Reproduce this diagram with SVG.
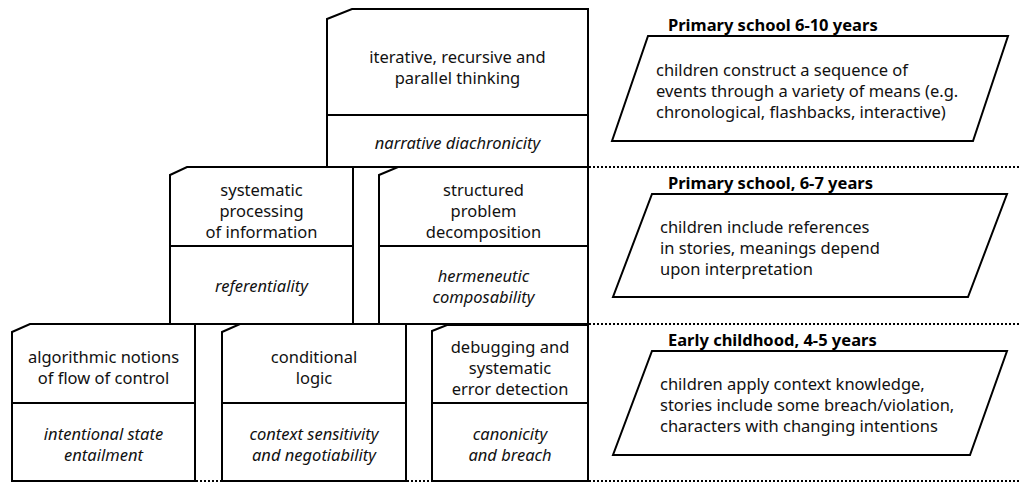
<svg xmlns="http://www.w3.org/2000/svg" width="1019" height="482" viewBox="0 0 1019 482">
<style>
.box{fill:#fff;stroke:#000;stroke-width:2;stroke-linejoin:miter}
.div{stroke:#000;stroke-width:2}
.dot{stroke:#000;stroke-width:2;stroke-dasharray:2 2;fill:none}
.t{font-family:"Noto Sans","Open Sans",sans-serif;font-size:16.5px;fill:#111;text-anchor:middle}
.i{font-style:italic}
.h{font-family:"Noto Sans","Open Sans",sans-serif;font-size:16.5px;font-weight:bold;fill:#000}
.b{font-family:"Noto Sans","Open Sans",sans-serif;font-size:16.5px;fill:#111}
</style>
<rect width="1019" height="482" fill="#fff"/>
<g id="connectors">
<line class="dot" x1="589" y1="167" x2="1019" y2="167"/>
<line class="dot" x1="589" y1="324" x2="1019" y2="324"/>
<line class="dot" x1="589" y1="481" x2="1019" y2="481"/>
<line class="dot" x1="196" y1="481" x2="222" y2="481"/>
<line class="dot" x1="407" y1="481" x2="432" y2="481"/>
</g>
<g id="n-top">
<path class="box" d="M327 19 L352 9 L588 9 L588 167 L327 167 Z"/>
<line class="div" x1="327" y1="115" x2="588" y2="115"/>
<text class="t" x="457.5" y="63">iterative, recursive and</text>
<text class="t" x="457.5" y="84">parallel thinking</text>
<text class="t i" x="457.5" y="149">narrative diachronicity</text>
</g>
<g id="n-mid1">
<path class="box" d="M170 175 L187 167 L353 167 L353 324 L170 324 Z"/>
<line class="div" x1="170" y1="246" x2="353" y2="246"/>
<text class="t" x="261.5" y="196">systematic</text>
<text class="t" x="261.5" y="217">processing</text>
<text class="t" x="261.5" y="238">of information</text>
<text class="t i" x="261.5" y="292">referentiality</text>
</g>
<g id="n-mid2">
<path class="box" d="M379 175 L398 167 L588 167 L588 324 L379 324 Z"/>
<line class="div" x1="379" y1="246" x2="588" y2="246"/>
<text class="t" x="483.5" y="196">structured</text>
<text class="t" x="483.5" y="217">problem</text>
<text class="t" x="483.5" y="238">decomposition</text>
<text class="t i" x="483.5" y="282">hermeneutic</text>
<text class="t i" x="483.5" y="303">composability</text>
</g>
<g id="n-bot1">
<path class="box" d="M12 332 L30 324 L195 324 L195 481 L12 481 Z"/>
<line class="div" x1="12" y1="403" x2="195" y2="403"/>
<text class="t" x="103.5" y="363">algorithmic notions</text>
<text class="t" x="103.5" y="384">of flow of control</text>
<text class="t i" x="103.5" y="440">intentional state</text>
<text class="t i" x="103.5" y="461">entailment</text>
</g>
<g id="n-bot2">
<path class="box" d="M222 332 L240 324 L406 324 L406 481 L222 481 Z"/>
<line class="div" x1="222" y1="403" x2="406" y2="403"/>
<text class="t" x="314" y="363">conditional</text>
<text class="t" x="314" y="384">logic</text>
<text class="t i" x="314" y="440">context sensitivity</text>
<text class="t i" x="314" y="461">and negotiability</text>
</g>
<g id="n-bot3">
<path class="box" d="M432 331 L447 325 L588 325 L588 481 L432 481 Z"/>
<line class="div" x1="432" y1="403" x2="588" y2="403"/>
<text class="t" x="510" y="353">debugging and</text>
<text class="t" x="510" y="374">systematic</text>
<text class="t" x="510" y="395">error detection</text>
<text class="t i" x="510" y="440">canonicity</text>
<text class="t i" x="510" y="461">and breach</text>
</g>
<g id="n-age1">
<text class="h" x="668" y="31">Primary school 6-10 years</text>
<path class="box" d="M648 36 L1008 36 L973 141 L612 141 Z"/>
<text class="b" x="656" y="76">children construct a sequence of</text>
<text class="b" x="656" y="97">events through a variety of means (e.g.</text>
<text class="b" x="656" y="118">chronological, flashbacks, interactive)</text>
</g>
<g id="n-age2">
<text class="h" x="668" y="189">Primary school, 6-7 years</text>
<path class="box" d="M652 194 L1007 194 L968 297 L613 297 Z"/>
<text class="b" x="660" y="233">children include references</text>
<text class="b" x="660" y="254">in stories, meanings depend</text>
<text class="b" x="660" y="275">upon interpretation</text>
</g>
<g id="n-age3">
<text class="h" x="668" y="346">Early childhood, 4-5 years</text>
<path class="box" d="M652 351 L1007 351 L970 455 L613 455 Z"/>
<text class="b" x="660" y="390">children apply context knowledge,</text>
<text class="b" x="660" y="411">stories include some breach/violation,</text>
<text class="b" x="660" y="432">characters with changing intentions</text>
</g>
</svg>
